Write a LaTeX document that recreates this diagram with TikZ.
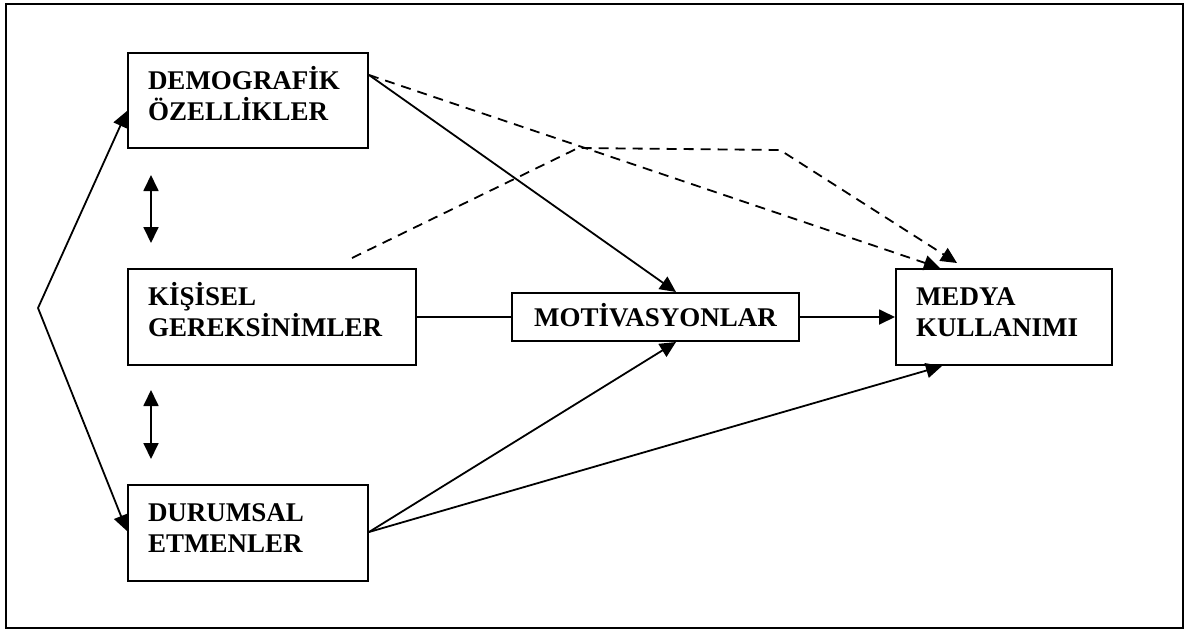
\documentclass[tikz,border=0pt]{standalone}
\usepackage{fontspec}
\setmainfont{Liberation Serif}
\usetikzlibrary{arrows.meta}

\tikzset{
  box/.style={draw,line width=2pt,inner xsep=20pt,inner ysep=0pt,anchor=north west,
    align=left,text height=18pt,text depth=41pt,font=\bfseries\fontsize{27}{31}\selectfont},
  tip/.style={line width=1.8pt,-{Triangle[length=16pt,width=15pt]}},
  dtip/.style={line width=1.8pt,{Triangle[length=16pt,width=15pt]}-{Triangle[length=16pt,width=15pt]}},
  dashline/.style={dash pattern=on 10pt off 7pt}
}

\begin{document}
\begin{tikzpicture}[x=1pt,y=-1pt]
\useasboundingbox (0,0) rectangle (1186,630);
\draw[line width=2pt] (6,4) rectangle (1183,628);

% boxes
\node[box,text width=200pt,minimum height=95pt] (dem) at (127,52) {DEMOGRAFİK\\ÖZELLİKLER};
\node[box,text width=248pt,minimum height=96pt] (kis) at (127,268) {KİŞİSEL\\GEREKSİNİMLER};
\node[box,text width=200pt,minimum height=96pt] (dur) at (127,484) {DURUMSAL\\ETMENLER};
\node[box,text width=176pt,minimum height=96pt] (med) at (895,268) {MEDYA\\KULLANIMI};
\node[box,align=center,inner xsep=10pt,text width=267pt,text depth=0pt,minimum height=48pt] (mot) at (511,292) {MOTİVASYONLAR};

% left side
\coordinate (apex) at (38,308);
\draw[tip] (apex) -- ([yshift=-10.5pt]dem.west);
\draw[tip] (apex) -- ([yshift=2pt]dur.west);
\draw[dtip,shorten <=26pt,shorten >=25pt] ([xshift=24pt]dem.south west) -- ([xshift=24pt]kis.north west);
\draw[dtip,shorten <=24pt,shorten >=25pt] ([xshift=24pt]kis.south west) -- ([xshift=24pt]dur.north west);

% solid paths
\draw[tip] ([yshift=-23pt]dem.north east) -- ([xshift=20.5pt]mot.north);
\draw[line width=1.8pt] (kis.east) -- (mot.west);
\draw[tip] (mot.east) -- (med.west);
\draw[tip] ([yshift=1pt]dur.east) -- ([xshift=20.5pt]mot.south);
\draw[tip] ([yshift=1pt]dur.east) -- ([xshift=47pt]med.south west);

% dashed paths
\coordinate (kk) at ([xshift=-65pt,yshift=10pt]kis.north east);
\coordinate (b1) at (578,148);
\coordinate (b2) at (780,150);
\draw[tip,dashline] ([yshift=-23pt]dem.north east) -- ([xshift=45pt]med.north west);
\draw[tip,dashline] (kk) -- (b1) -- (b2) -- ([xshift=62pt,yshift=5pt]med.north west);
\end{tikzpicture}
\end{document}
